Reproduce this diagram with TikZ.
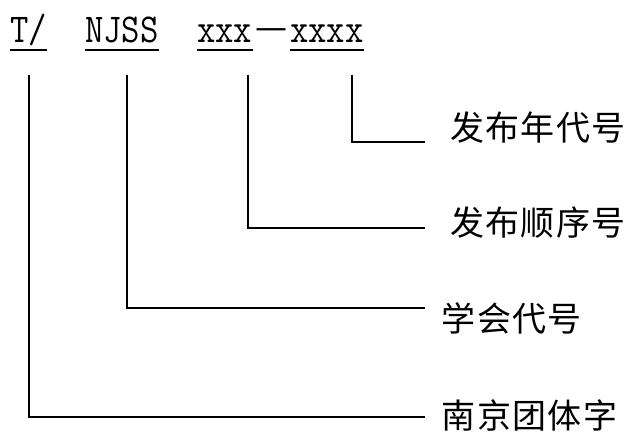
\documentclass[tikz,border=0pt]{standalone}
\usepackage{fontspec}
\newfontfamily\cjk[LetterSpace=4]{Noto Sans CJK SC}
\newfontfamily\dashfont{DejaVu Sans}
\newfontfamily\latin[FakeStretch=0.87]{Latin Modern Mono}
\tikzset{
  lab/.style={font=\cjk\fontsize{34bp}{37bp}\selectfont, anchor=west, inner sep=0pt},
  code/.style={font=\latin\fontsize{41bp}{44bp}\selectfont, anchor=base west, inner sep=0pt},
  ul/.style={line width=1.8bp},
  conn/.style={line width=1.2bp}
}
\begin{document}
\begin{tikzpicture}[x=1bp,y=-1bp]
\useasboundingbox (0,0) rectangle (632,433);
% code line
\node[code] (tT) at (10,43) {T/};
\node[code] (tN) at (85,43) {NJSS};
\node[code] (tx) at (197,43) {xxx};
\node[font=\dashfont\fontsize{32bp}{34bp}\selectfont, anchor=base, inner sep=0pt] (dash) at (271.5,38.5) {—};
\node[code] (ty) at (290,43) {xxxx};
\foreach \n in {tT,tN,tx,ty}
  \draw[ul] ([yshift=-7bp]\n.base west) -- ([yshift=-7bp]\n.base east);
% labels
\node[lab] (l1) at (450,127.5) {发布年代号};
\node[lab] (l2) at (450,222.5) {发布顺序号};
\node[lab] (l3) at (441.5,318.5) {学会代号};
\node[lab] (l4) at (441.5,415.5) {南京团体字};
% connector tops and ends
\coordinate (a1) at (352,75);
\coordinate (a2) at (248,75);
\coordinate (a3) at (127,75);
\coordinate (a4) at (29,75);
\coordinate (e1) at (425,142);
\coordinate (e2) at (425,228);
\coordinate (e3) at (425,308);
\coordinate (e4) at (425,417);
\draw[conn] (a1) |- (e1);
\draw[conn] (a2) |- (e2);
\draw[conn] (a3) |- (e3);
\draw[conn] (a4) |- (e4);
\end{tikzpicture}
\end{document}
